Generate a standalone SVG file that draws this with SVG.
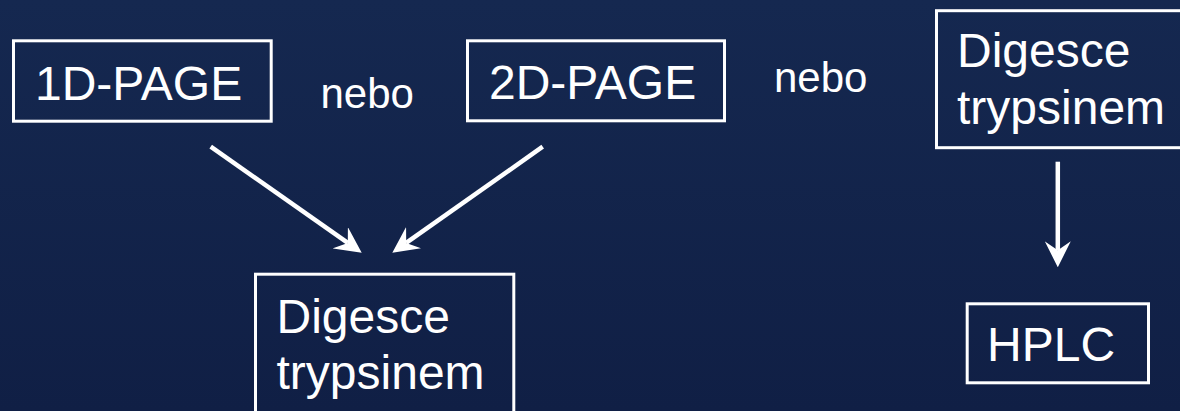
<svg xmlns="http://www.w3.org/2000/svg" width="1180" height="411" viewBox="0 0 1180 411">
  <defs>
    <linearGradient id="bg" x1="0" y1="0" x2="0" y2="1">
      <stop offset="0" stop-color="#152850"/>
      <stop offset="1" stop-color="#101f45"/>
    </linearGradient>
    <marker id="head" viewBox="0 -13 26 26" refX="9" refY="0" markerWidth="26" markerHeight="26" markerUnits="userSpaceOnUse" orient="auto">
      <path d="M26,0 L0,-13 L9,0 L0,13 Z" fill="#ffffff"/>
    </marker>
    <style>
      .box { fill: none; stroke: #ffffff; stroke-width: 3; }
      .lbl { font-family: "Liberation Sans", Arial, sans-serif; font-size: 48px; fill: #ffffff; }
      .or { font-family: "Liberation Sans", Arial, sans-serif; font-size: 42px; fill: #ffffff; }
      .conn { stroke: #ffffff; stroke-width: 4.5; fill: none; marker-end: url(#head); }
    </style>
  </defs>
  <rect x="0" y="0" width="1180" height="411" fill="url(#bg)"/>

  <g id="page1d">
    <rect class="box" x="13.5" y="40.8" width="257.7" height="80.4"/>
    <text class="lbl" x="35" y="100">1D-PAGE</text>
  </g>
  <g id="nebo1">
    <text class="or" x="320.5" y="108.3">nebo</text>
  </g>
  <g id="page2d">
    <rect class="box" x="467.5" y="40.8" width="257" height="80"/>
    <text class="lbl" x="489" y="99">2D-PAGE</text>
  </g>
  <g id="nebo2">
    <text class="or" x="774" y="92.3">nebo</text>
  </g>
  <g id="digesce-top">
    <rect class="box" x="936.5" y="10.7" width="270" height="137"/>
    <text class="lbl" x="957" y="67">Digesce</text>
    <text class="lbl" x="957" y="123.5">trypsinem</text>
  </g>
  <g id="digesce-bottom">
    <rect class="box" x="255.5" y="274.2" width="258.3" height="160"/>
    <text class="lbl" x="276.5" y="332.7">Digesce</text>
    <text class="lbl" x="276.5" y="389.3">trypsinem</text>
  </g>
  <g id="hplc">
    <rect class="box" x="967.2" y="303.8" width="181.3" height="79"/>
    <text class="lbl" x="987" y="360.7">HPLC</text>
  </g>

  <g id="connectors">
    <line class="conn" x1="210.7" y1="146.7" x2="347.8" y2="242.9"/>
    <line class="conn" x1="542.7" y1="146.7" x2="406.2" y2="242.9"/>
    <line class="conn" x1="1057.8" y1="161.7" x2="1057.8" y2="250.3"/>
  </g>
</svg>
